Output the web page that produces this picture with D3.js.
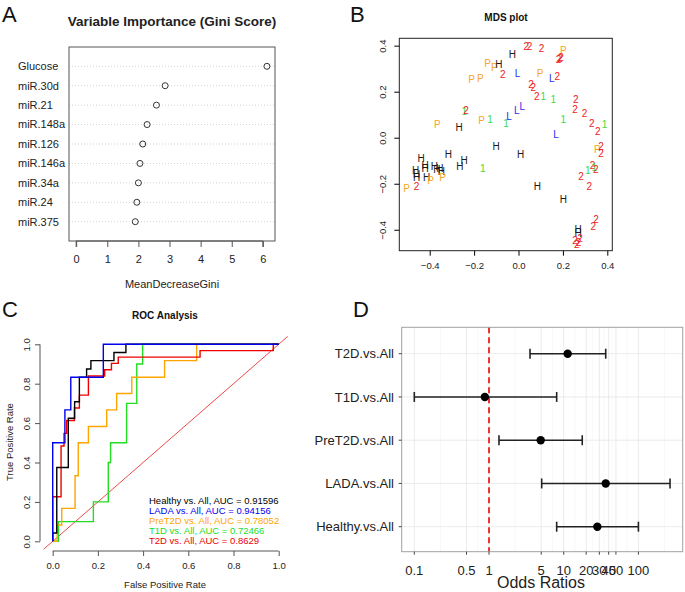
<!DOCTYPE html>
<html><head><meta charset="utf-8">
<script src="https://cdn.jsdelivr.net/npm/d3@7"></script>
<style>body{margin:0;background:#fff} svg{display:block;font-family:"Liberation Sans",Arial,Helvetica,sans-serif}</style>
</head><body><svg id="c" width="685" height="592"></svg>
<script>
// ---------- Panel A data ----------
const giniVars = ["Glucose","miR.30d","miR.21","miR.148a","miR.126","miR.146a","miR.34a","miR.24","miR.375"];
const giniValues = [6.13,2.86,2.58,2.28,2.14,2.05,2.0,1.95,1.9];
const giniTicks = [0,1,2,3,4,5,6];

// ---------- Panel B data (MDS) ----------
const mdsLabels = ["2","2","2","P","2","2","2","H","P","P","H","P","P","2","L","P","L","2","2","2","2","1","1","2","2","2","2","2","1","1","L","1","2","P","1","1","L","L","L","P","H","H","P","2","2","H","H","H","H","H","H","H","H","H","H","H","H","H","H","2","P","H","P","P","1","H","H","2","2","1","2","1","2","2","2","H","H","2","2","2","2"];
const mdsX = [0.035,0.05,0.104,0.202,0.18,0.187,0.192,-0.028,-0.139,-0.109,-0.088,-0.211,-0.172,-0.071,-0.004,0.097,0.15,0.175,0.056,0.067,0.082,0.112,0.157,0.258,0.255,0.297,0.33,0.357,0.387,0.202,0.169,-0.244,-0.236,-0.166,-0.128,-0.056,-0.043,-0.008,0.017,-0.366,-0.267,-0.101,0.355,0.372,0.372,0.01,-0.316,-0.439,-0.421,-0.421,-0.379,-0.368,-0.354,-0.347,-0.245,-0.264,-0.463,-0.459,-0.459,-0.459,-0.504,-0.414,-0.396,-0.342,-0.161,0.085,0.202,0.282,0.319,0.312,0.334,0.341,0.348,0.349,0.337,0.269,0.269,0.255,0.277,0.263,0.27];
const mdsY = [0.395,0.395,0.386,0.378,0.338,0.345,0.35,0.363,0.323,0.304,0.316,0.255,0.258,0.273,0.277,0.277,0.258,0.265,0.232,0.217,0.178,0.178,0.167,0.167,0.123,0.106,0.063,0.026,0.058,0.077,0.012,0.116,0.118,0.074,0.077,0.06,0.091,0.12,0.135,0.058,0.045,-0.039,-0.053,-0.039,-0.068,-0.075,-0.075,-0.09,-0.119,-0.133,-0.123,-0.14,-0.133,-0.148,-0.101,-0.126,-0.143,-0.162,-0.172,-0.21,-0.22,-0.174,-0.187,-0.174,-0.133,-0.213,-0.268,-0.167,-0.21,-0.143,-0.119,-0.131,-0.136,-0.355,-0.384,-0.398,-0.415,-0.445,-0.44,-0.463,-0.455];
const mdsTicks = [-0.4,-0.2,0.0,0.2,0.4];
const mdsColors = {H:"#1a1a1a",L:"#2b2bf0",P:"#f5a623","1":"#3cdc3c","2":"#ee2222"};

// ---------- Panel C data (ROC) ----------
const rocNames = ["Healthy vs. All, AUC = 0.91596","LADA vs. All, AUC = 0.94156","PreT2D vs. All, AUC = 0.78052","T1D vs. All, AUC = 0.72466","T2D vs. All, AUC = 0.8629"];
const rocColors = ["#000000","#0000ee","#ffa500","#22dd22","#ee0000"];
const rocHealthyFPR = [0,0,0.018,0.018,0.069,0.069,0.097,0.097,0.118,0.118,0.15,0.15,0.169,0.169,0.271,0.271,0.324,0.324,1];
const rocHealthyTPR = [0,0.042,0.042,0.375,0.375,0.625,0.625,0.708,0.708,0.833,0.833,0.875,0.875,0.917,0.917,0.958,0.958,1,1];
const rocLadaFPR = [0,0,0.054,0.054,0.08,0.08,0.224,0.224,1];
const rocLadaTPR = [0,0.5,0.5,0.667,0.667,0.833,0.833,1,1];
const rocPreFPR = [0,0.02,0.02,0.04,0.04,0.099,0.099,0.113,0.113,0.158,0.158,0.239,0.239,0.283,0.283,0.35,0.35,0.495,0.495,0.637,0.637,1];
const rocPreTPR = [0,0,0.083,0.083,0.167,0.167,0.333,0.333,0.5,0.5,0.583,0.583,0.667,0.667,0.75,0.75,0.833,0.833,0.917,0.917,1,1];
const rocT1FPR = [0,0.025,0.025,0.18,0.18,0.246,0.246,0.256,0.256,0.327,0.327,0.372,0.372,0.398,0.398,1];
const rocT1TPR = [0,0,0.1,0.1,0.2,0.2,0.4,0.4,0.5,0.5,0.7,0.7,0.9,0.9,1,1];
const rocT2FPR = [0,0,0.037,0.037,0.05,0.05,0.062,0.062,0.096,0.096,0.118,0.118,0.158,0.158,0.23,0.23,0.26,0.26,0.29,0.29,0.652,0.652,0.976,0.976,1];
const rocT2TPR = [0,0.226,0.226,0.484,0.484,0.548,0.548,0.613,0.613,0.677,0.677,0.742,0.742,0.839,0.839,0.871,0.871,0.903,0.903,0.935,0.935,0.968,0.968,1,1];
const rocTicks = [0,0.2,0.4,0.6,0.8,1.0];

// ---------- Panel D data (odds ratios) ----------
const orLabels = ["T2D.vs.All","T1D.vs.All","PreT2D.vs.All","LADA.vs.All","Healthy.vs.All"];
const orEstimate = [11.3,0.88,4.92,36.5,28.2];
const orLower = [3.54,0.1,1.36,5.07,8.05];
const orUpper = [36.5,8.05,17.7,265,100];
const orTicks = [0.1,0.5,1,5,10,20,30,40,50,100];

const svg = d3.select("#c");

// panel letters
[["A",2,22],["B",350,22],["C",2,317],["D",353,317]].forEach(([t,x,y])=>{
  svg.append("text").attr("x",x).attr("y",y).attr("font-size",22).attr("fill","#111").text(t);
});

// ================= Panel A =================
(function(){
  const g = svg.append("g");
  const x = d3.scaleLinear().domain([-0.23,6.39]).range([69,275]);
  const y = d3.scalePoint().domain(giniVars).range([66.3,221.7]);
  g.append("text").attr("x",172).attr("y",26).attr("text-anchor","middle")
    .attr("font-size",13.5).attr("font-weight","bold").attr("fill","#222").text("Variable Importance (Gini Score)");
  giniVars.forEach((v,i)=>{
    g.append("line").attr("x1",69).attr("x2",275).attr("y1",y(v)).attr("y2",y(v))
      .attr("stroke","#c8c8c8").attr("stroke-width",0.8).attr("stroke-dasharray","1,2");
    g.append("text").attr("x",18).attr("y",y(v)).attr("dy","0.35em").attr("font-size",11).attr("fill","#222").text(v);
    g.append("circle").attr("cx",x(giniValues[i])).attr("cy",y(v)).attr("r",3)
      .attr("fill","none").attr("stroke","#333").attr("stroke-width",1);
  });
  g.append("rect").attr("x",69).attr("y",47).attr("width",206).attr("height",194)
    .attr("fill","none").attr("stroke","#555").attr("stroke-width",1);
  const ax = g.append("g").attr("transform","translate(0,241)")
    .call(d3.axisBottom(x).tickValues(giniTicks).tickFormat(d3.format("d")).tickSize(6).tickPadding(8));
  ax.select(".domain").attr("stroke","#555").attr("d","M"+x(0)+",6V0H"+x(6)+"V6");
  ax.selectAll(".tick line").attr("stroke","#555");
  ax.selectAll("text").attr("font-size",11).attr("fill","#222").attr("font-family","Liberation Sans, Arial");
  g.append("text").attr("x",172).attr("y",288).attr("text-anchor","middle").attr("font-size",11).attr("fill","#222").text("MeanDecreaseGini");
})();

// ================= Panel B =================
(function(){
  const g = svg.append("g");
  const x = d3.scaleLinear().domain([-0.537,0.4225]).range([399.3,612.3]);
  const y = d3.scaleLinear().domain([-0.491,0.432]).range([250.7,38.3]);
  g.append("text").attr("x",506).attr("y",21).attr("text-anchor","middle")
    .attr("font-size",10).attr("font-weight","bold").attr("fill","#111").text("MDS plot");
  g.append("rect").attr("x",399.3).attr("y",38.3).attr("width",213).attr("height",212.4)
    .attr("fill","none").attr("stroke","#222").attr("stroke-width",1);
  const ax = g.append("g").attr("transform","translate(0,250.7)")
    .call(d3.axisBottom(x).tickValues(mdsTicks).tickFormat(d3.format(".1f")).tickSize(5).tickPadding(7));
  ax.select(".domain").remove();
  ax.selectAll("text").attr("font-size",9.5).attr("fill","#222");
  const ay = g.append("g").attr("transform","translate(399.3,0)")
    .call(d3.axisLeft(y).tickValues(mdsTicks).tickFormat(d3.format(".1f")).tickSize(5).tickPadding(0));
  ay.select(".domain").remove();
  ay.selectAll("text").attr("font-size",9.5).attr("fill","#222")
    .attr("text-anchor","middle").attr("dy",0).attr("x",0)
    .attr("transform",d=>"translate(-13,"+0+") rotate(-90)");
  g.selectAll("text.pt").data(mdsLabels).enter().append("text").attr("class","pt")
    .attr("x",(d,i)=>x(mdsX[i])).attr("y",(d,i)=>y(mdsY[i])).attr("dy","0.35em")
    .attr("text-anchor","middle").attr("font-size",10).attr("fill",d=>mdsColors[d]).text(d=>d);
})();

// ================= Panel C =================
(function(){
  const g = svg.append("g");
  const x = d3.scaleLinear().domain([0,1]).range([52.7,278.7]);
  const y = d3.scaleLinear().domain([0,1]).range([541.3,344.3]);
  g.append("text").attr("x",165).attr("y",319).attr("text-anchor","middle")
    .attr("font-size",10).attr("font-weight","bold").attr("fill","#111").text("ROC Analysis");
  const ax = g.append("g").attr("transform","translate(0,551)")
    .call(d3.axisBottom(x).tickValues(rocTicks).tickFormat(d3.format(".1f")).tickSize(5).tickPadding(6));
  ax.select(".domain").attr("d","M"+x(0)+",0H"+x(1)).attr("stroke","#555");
  ax.selectAll(".tick line").attr("stroke","#555");
  ax.selectAll("text").attr("font-size",9.5).attr("fill","#222");
  const ay = g.append("g").attr("transform","translate(40,0)")
    .call(d3.axisLeft(y).tickValues(rocTicks).tickFormat(d3.format(".1f")).tickSize(5).tickPadding(0));
  ay.select(".domain").attr("d","M0,"+y(0)+"V"+y(1)).attr("stroke","#555");
  ay.selectAll(".tick line").attr("stroke","#555");
  ay.selectAll("text").attr("font-size",9.5).attr("fill","#222")
    .attr("text-anchor","middle").attr("dy",0).attr("x",0)
    .attr("transform","translate(-10,0) rotate(-90)");
  g.append("text").attr("x",165).attr("y",588).attr("text-anchor","middle").attr("font-size",9.5).attr("fill","#222").text("False Positive Rate");
  g.append("text").attr("transform","translate(13,442) rotate(-90)").attr("text-anchor","middle").attr("font-size",9.5).attr("fill","#222").text("True Positive Rate");
  g.append("line").attr("x1",x(-0.04)).attr("y1",y(-0.04)).attr("x2",x(1.04)).attr("y2",y(1.04))
    .attr("stroke","#ee3333").attr("stroke-width",0.9);
  const series = [[rocHealthyFPR,rocHealthyTPR],[rocLadaFPR,rocLadaTPR],[rocPreFPR,rocPreTPR],[rocT1FPR,rocT1TPR],[rocT2FPR,rocT2TPR]];
  const line = d3.line().x(d=>x(d[0])).y(d=>y(d[1]));
  const order = [3,2,4,0,1];
  order.forEach(k=>{
    const [fx,ty] = series[k];
    g.append("path").attr("d",line(fx.map((v,i)=>[v,ty[i]]))).attr("fill","none")
      .attr("stroke",rocColors[k]).attr("stroke-width",1.4);
  });
  rocNames.forEach((n,i)=>{
    g.append("text").attr("x",149).attr("y",500.7+i*9.9).attr("dy","0.35em")
      .attr("font-size",9.5).attr("fill",rocColors[i]).text(n);
  });
})();

// ================= Panel D =================
(function(){
  const g = svg.append("g");
  const L=401.7,R=682.7,T=327.3,B=551.7;
  const x = d3.scaleLog().domain([0.0678,391.6]).range([L,R]);
  const y = d3.scalePoint().domain(orLabels).range([353.7,526.7]);
  g.append("rect").attr("x",L).attr("y",T).attr("width",R-L).attr("height",B-T).attr("fill","#fff");
  const minor = [0.2236,0.7071,2.236,7.071,14.14,24.49,34.64,44.72,70.71,223.6];
  minor.forEach(v=>g.append("line").attr("x1",x(v)).attr("x2",x(v)).attr("y1",T).attr("y2",B).attr("stroke","#f4f4f4").attr("stroke-width",0.6));
  orTicks.forEach(v=>g.append("line").attr("x1",x(v)).attr("x2",x(v)).attr("y1",T).attr("y2",B).attr("stroke","#e6e6e6").attr("stroke-width",0.8));
  orLabels.forEach(v=>g.append("line").attr("x1",L).attr("x2",R).attr("y1",y(v)).attr("y2",y(v)).attr("stroke","#e6e6e6").attr("stroke-width",0.8));
  g.append("line").attr("x1",x(1)).attr("x2",x(1)).attr("y1",T).attr("y2",B)
    .attr("stroke","#ee3333").attr("stroke-width",2).attr("stroke-dasharray","6,4");
  orLabels.forEach((v,i)=>{
    const yy=y(v);
    g.append("line").attr("x1",x(orLower[i])).attr("x2",x(orUpper[i])).attr("y1",yy).attr("y2",yy).attr("stroke","#222").attr("stroke-width",1.6);
    [orLower[i],orUpper[i]].forEach(e=>g.append("line").attr("x1",x(e)).attr("x2",x(e)).attr("y1",yy-5).attr("y2",yy+5).attr("stroke","#222").attr("stroke-width",1.6));
    g.append("circle").attr("cx",x(orEstimate[i])).attr("cy",yy).attr("r",4.2).attr("fill","#000");
  });
  g.append("rect").attr("x",L).attr("y",T).attr("width",R-L).attr("height",B-T).attr("fill","none").attr("stroke","#a0a0a0").attr("stroke-width",1);
  orLabels.forEach(v=>{
    g.append("text").attr("x",394).attr("y",y(v)).attr("dy","0.36em").attr("text-anchor","end")
      .attr("font-size",13).attr("fill","#222").text(v);
    g.append("line").attr("x1",L-3).attr("x2",L).attr("y1",y(v)).attr("y2",y(v)).attr("stroke","#444");
  });
  orTicks.forEach(v=>{
    g.append("line").attr("x1",x(v)).attr("x2",x(v)).attr("y1",B).attr("y2",B+3).attr("stroke","#444");
    g.append("text").attr("x",x(v)).attr("y",570).attr("dy","0.35em").attr("text-anchor","middle")
      .attr("font-size",13).attr("fill","#222").text(d3.format("~g")(v));
  });
  g.append("text").attr("x",541).attr("y",588).attr("text-anchor","middle").attr("font-size",16).attr("fill","#222").text("Odds Ratios");
})();
</script></body></html>
